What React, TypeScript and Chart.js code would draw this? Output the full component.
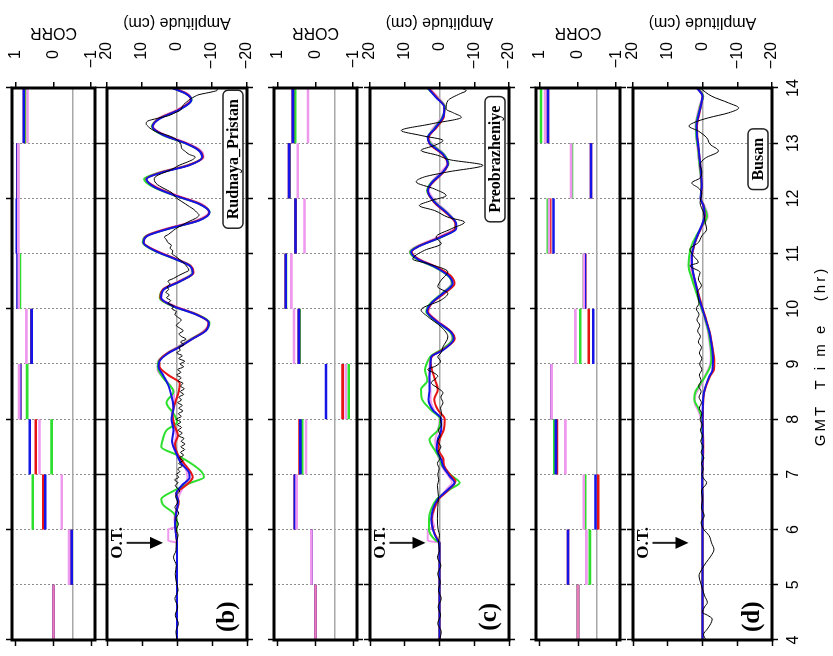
import React, { useEffect, useRef } from 'react';
import { Chart, registerables } from 'chart.js';

Chart.register(...registerables);

type P = [number, number];

// ---------- axes / ticks ----------
const TIME_TICKS = [4, 5, 6, 7, 8, 9, 10, 11, 12, 13, 14];
const TIME_TICKS_2H = [4, 6, 8, 10, 12, 14];
const AMP_TICKS = [20, 10, 0, -10, -20];
const CORR_TICKS = [1, 0, -1];
const CORR_REF = -0.5;
const HOUR_START = [4, 5, 6, 7, 8, 9, 10, 11, 12, 13];
const HOUR_END = [5, 6, 7, 8, 9, 10, 11, 12, 13, 14];
const OT_TIME = 5.76;
const STATIONS = ['Rudnaya_Pristan', 'Preobrazheniye', 'Busan'];
const PANEL_TAGS = ['(b)', '(c)', '(d)'];
const TIME_TITLE = 'GMT  T i m e   (hr)';

// ---------- hourly correlation (4-5 ... 13-14) ----------
const corrB_blue = [0, -0.48, 0.22, 0.63, 0.88, 0.58, 0.95, 0.97, 0.95, 0.79];
const corrB_red = [0, -0.48, 0.27, 0.47, 0.88, 0.58, 0.94, 0.96, 0.95, 0.78];
const corrB_green = [0, -0.48, 0.55, 0.05, 0.70, 0.58, 0.89, 0.96, 0.94, 0.75];
const corrB_violet = [0, -0.41, -0.22, 0.37, 0.91, 0.72, 0.92, 0.93, 0.93, 0.69];

const corrC_blue = [0, 0.11, 0.55, 0.40, -0.28, 0.44, 0.79, 0.53, 0.70, 0.60];
const corrC_red = [0, 0.11, 0.55, 0.42, -0.72, 0.44, 0.79, 0.53, 0.70, 0.60];
const corrC_green = [0, 0.11, 0.53, 0.35, -0.88, 0.42, 0.78, 0.53, 0.69, 0.54];
const corrC_violet = [0, 0.11, 0.50, 0.25, -0.80, 0.57, 0.64, 0.29, 0.47, 0.20];

const corrD_blue = [0, 0.26, -0.46, 0.58, 0.69, -0.40, -0.18, 0.64, -0.34, 0.79];
const corrD_red = [0, 0.26, -0.53, 0.55, 0.69, -0.28, -0.19, 0.73, -0.34, 0.79];
const corrD_green = [0, -0.31, -0.19, 0.62, 0.69, -0.06, -0.15, 0.79, 0.16, 0.97];
const corrD_violet = [0, -0.22, -0.15, 0.33, 0.69, 0.07, -0.15, 0.76, 0.18, 0.86];

// ---------- waveforms [time (hr), amplitude (cm)] ----------
const bBlack: P[] = [[4,0],[4.15,0.3],[4.3,-0.4],[4.45,0.5],[4.6,-0.2],[4.75,0.6],[4.9,-0.3],[5.05,0.2],[5.2,0.5],[5.35,0.2],[5.5,1.0],[5.62,0.3],[5.77,0.2],[5.9,-0.3],[6.0,0.2],[6.1,-0.4],[6.2,0.3],[6.3,-0.5],[6.4,0.6],[6.5,-0.2],[6.6,0.4],[6.7,-0.8],[6.8,0.5],[6.85,-0.3],[6.9,0.7],[6.95,-0.5],[7.0,0.2],[7.05,-0.8],[7.1,-0.2],[7.15,-1.5],[7.2,-0.5],[7.25,-1.7],[7.3,-0.7],[7.35,-1.9],[7.4,-1.0],[7.45,-2.2],[7.5,-1.1],[7.55,-2.3],[7.6,-1.2],[7.65,-2.0],[7.7,-0.5],[7.75,-1.5],[7.8,-0.3],[7.85,-1.3],[7.9,-0.1],[7.95,-1.1],[8.0,0.2],[8.05,-1.2],[8.1,-0.4],[8.15,-1.7],[8.2,-0.5],[8.25,-1.5],[8.3,-0.2],[8.35,-1.3],[8.4,-0.5],[8.45,-1.9],[8.5,-0.9],[8.55,-2.1],[8.6,-1.0],[8.65,-1.7],[8.7,-0.3],[8.75,-1.2],[8.8,0.1],[8.85,-1.1],[8.9,-0.2],[8.95,-1.9],[9.0,-0.9],[9.05,-2.2],[9.1,-0.5],[9.15,-1.5],[9.2,0.1],[9.25,-0.9],[9.3,-0.6],[9.35,-2.0],[9.4,-1.0],[9.45,-2.6],[9.5,-1.2],[9.55,-0.6],[9.6,-1.8],[9.65,-0.8],[9.7,0.2],[9.75,-0.6],[9.8,-1.2],[9.85,-0.2],[9.9,0.6],[9.95,0.2],[10.0,1.4],[10.05,1.0],[10.1,2.6],[10.15,1.8],[10.2,3.0],[10.25,2.2],[10.3,3.2],[10.35,2.4],[10.4,2.8],[10.45,2.0],[10.5,2.6],[10.55,1.0],[10.6,-0.4],[10.65,-2.0],[10.7,-3.4],[10.75,-3.0],[10.8,-2.4],[10.85,-1.6],[10.9,-0.6],[10.95,0.4],[11.0,1.4],[11.05,1.2],[11.1,2.0],[11.15,1.6],[11.2,2.6],[11.25,3.0],[11.3,3.6],[11.35,2.4],[11.4,1.4],[11.45,0.4],[11.5,-1.0],[11.55,-2.4],[11.6,-4.0],[11.65,-5.6],[11.7,-6.3],[11.75,-5.6],[11.8,-4.8],[11.85,-3.6],[11.9,-2.4],[11.95,-1.2],[12.0,0],[12.05,0.8],[12.1,1.4],[12.15,2.8],[12.2,4.3],[12.25,5.6],[12.3,6.3],[12.35,6.5],[12.4,6.0],[12.45,4.4],[12.5,2.4],[12.55,0.8],[12.6,-0.6],[12.65,-2.6],[12.7,-4.4],[12.75,-5.2],[12.8,-3.4],[12.85,-2.4],[12.9,-1.4],[12.95,-1.2],[13.0,-1.0],[13.05,-0.2],[13.1,1.0],[13.15,3.0],[13.2,5.6],[13.25,7.2],[13.3,8.2],[13.35,8.8],[13.4,8.4],[13.45,5.6],[13.5,2.4],[13.55,0.6],[13.6,-1.0],[13.65,-1.4],[13.7,-1.9],[13.75,-2.8],[13.8,-3.8],[13.85,-5.2],[13.88,-6.3],[13.93,-10.0],[13.96,-11.5],[14,-11.5]];
const bBlue: P[] = [[4,0],[5.76,0],[5.9,0.3],[6.1,0.6],[6.3,0.2],[6.5,-0.3],[6.65,0.2],[6.8,-1.4],[6.95,-3.6],[7.05,-3.3],[7.2,-1.2],[7.4,0.3],[7.6,1.4],[7.8,1.0],[8.0,1.6],[8.2,1.0],[8.4,1.5],[8.6,2.4],[8.8,4.0],[8.95,5.3],[9.05,5.0],[9.2,2.4],[9.3,-0.5],[9.45,-4.3],[9.6,-8.2],[9.75,-9.1],[9.9,-5.3],[10.05,1.2],[10.2,4.6],[10.35,3.8],[10.5,-1],[10.65,-4.5],[10.78,-3.6],[10.9,0.5],[11.05,6.3],[11.2,9.6],[11.32,8.5],[11.45,2.4],[11.6,-6.3],[11.75,-9.3],[11.9,-6.3],[12.05,0.5],[12.2,6.3],[12.35,8.7],[12.47,4.3],[12.6,-3.5],[12.75,-7.2],[12.88,-6.0],[13.0,-2.4],[13.15,4.0],[13.3,7.0],[13.45,4.8],[13.6,-0.5],[13.79,-4.1],[13.9,-2.4],[14,1.4]];
const bRed: P[] = [[4,0],[5.76,0],[5.9,0.2],[6.1,0.5],[6.3,0.3],[6.5,-0.5],[6.65,0.3],[6.8,-2.5],[6.95,-4.5],[7.05,-3.8],[7.2,-2.0],[7.35,-0.3],[7.55,0.6],[7.7,-0.3],[7.9,0.8],[8.1,1.3],[8.3,0.5],[8.5,-0.5],[8.65,-0.8],[8.8,2.5],[8.95,5.0],[9.05,5.1],[9.2,2.6],[9.3,-0.4],[9.45,-4.2],[9.6,-8.0],[9.75,-9.0],[9.9,-5.5],[10.05,1.0],[10.2,4.8],[10.35,4.0],[10.5,-0.8],[10.65,-4.7],[10.78,-3.8],[10.9,0.2],[11.05,6.0],[11.2,9.5],[11.32,8.7],[11.45,2.8],[11.6,-6.0],[11.75,-9.2],[11.9,-6.6],[12.05,0.2],[12.2,6.0],[12.35,8.8],[12.47,4.6],[12.6,-3.2],[12.75,-7.4],[12.88,-6.2],[13.0,-2.6],[13.15,3.8],[13.3,7.0],[13.45,5.0],[13.6,-0.2],[13.79,-4.0],[13.9,-2.6],[14,1.2]];
const bGreen: P[] = [[4,0],[5.76,0],[5.95,0.2],[6.15,0],[6.3,1],[6.45,4],[6.55,4.5],[6.7,1],[6.85,-4],[6.95,-7.7],[7.05,-7],[7.2,-4],[7.35,0],[7.5,4.5],[7.65,4],[7.8,3],[7.95,0],[8.1,1],[8.3,3],[8.5,1],[8.75,4],[8.95,5.5],[9.05,5.3],[9.2,2.6],[9.3,-0.2],[9.45,-4.0],[9.6,-8.0],[9.75,-9.3],[9.9,-5.6],[10.05,1.4],[10.2,4.9],[10.35,3.9],[10.5,-0.9],[10.65,-4.4],[10.78,-3.8],[10.9,0.5],[11.05,6.4],[11.2,9.8],[11.32,8.8],[11.45,2.4],[11.6,-6.2],[11.75,-9.3],[11.9,-6.4],[12.05,0.6],[12.2,6.6],[12.35,9.4],[12.47,4.8],[12.6,-3.2],[12.75,-7.2],[12.88,-6.1],[13.0,-2.3],[13.15,4.2],[13.3,7.2],[13.45,5.0],[13.6,-0.4],[13.79,-4.2],[13.9,-2.5],[14,1.3]];
const bViolet: P[] = [[4,0],[5.76,0],[5.8,2.5],[6.0,2.5],[6.05,0.5],[6.2,0.8],[6.4,0],[6.6,-0.5],[6.8,-2.0],[6.95,-3.0],[7.1,-2.5],[7.3,-0.5],[7.5,1.0],[7.7,0.3],[7.9,1.0],[8.1,1.5],[8.3,0.8],[8.5,1.0],[8.7,3.0],[8.9,5.6],[9.05,5.4],[9.2,2.8],[9.3,0.2],[9.45,-3.8],[9.6,-7.6],[9.75,-9.0],[9.9,-5.8],[10.05,0.6],[10.2,4.4],[10.35,4.0],[10.5,-0.4],[10.65,-4.2],[10.78,-4.0],[10.9,0],[11.05,5.8],[11.2,9.8],[11.32,9.0],[11.45,3.2],[11.6,-5.4],[11.75,-9.0],[11.9,-7.0],[12.05,-0.2],[12.2,5.6],[12.35,9.0],[12.47,5.2],[12.6,-2.8],[12.75,-7.6],[12.88,-6.6],[13.0,-3.0],[13.15,3.4],[13.3,6.8],[13.45,5.4],[13.6,0.2],[13.79,-4.0],[13.9,-3.0],[14,0.8]];

const cBlack: P[] = [[4,0],[4.15,-0.5],[4.3,0.5],[4.45,-0.3],[4.6,0.4],[4.75,-0.5],[4.9,0.3],[5.05,-0.2],[5.2,0.5],[5.35,-0.4],[5.5,0.6],[5.62,0],[5.77,0.3],[5.9,0],[6.0,0.4],[6.2,0.6],[6.4,0.5],[6.6,0.3],[6.8,0.6],[6.9,0.2],[7.0,0.5],[7.1,0.1],[7.2,0.6],[7.3,-0.2],[7.4,0.4],[7.5,-0.4],[7.6,0.5],[7.7,-0.2],[7.8,0.3],[7.9,-0.6],[8.0,-0.2],[8.1,-0.6],[8.2,-0.3],[8.3,-1.0],[8.4,-0.4],[8.48,-1.0],[8.56,0.4],[8.66,2.4],[8.74,1.0],[8.78,0.5],[8.84,1.6],[8.9,3.4],[8.96,1.2],[9.05,-0.3],[9.13,0.5],[9.2,-0.4],[9.31,-1],[9.49,-2.4],[9.67,-0.5],[9.86,3.4],[9.98,5.3],[10.16,-0.5],[10.28,-2.4],[10.4,0.5],[10.52,-0.5],[10.67,-2.4],[10.82,3.4],[10.9,7.7],[11.06,4.3],[11.18,-0.5],[11.3,1],[11.45,-3.4],[11.57,-7.2],[11.66,-2.4],[11.78,1.4],[11.87,5.8],[11.96,2.4],[12.05,-1.9],[12.17,1.4],[12.3,6.7],[12.39,4.3],[12.48,-2.4],[12.6,-12.5],[12.7,-3],[12.78,0.5],[12.87,5.3],[12.96,1.4],[13.05,-1],[13.14,5.3],[13.23,11],[13.35,2.4],[13.47,-6.3],[13.55,-4],[13.62,-1.9],[13.77,-2.4],[13.9,-6],[13.95,-7.7],[14,-6.3]];
const cBlue: P[] = [[4,0],[5.76,0],[5.8,0.5],[6.0,1.9],[6.19,2.4],[6.37,1.9],[6.55,0.5],[6.73,-2.5],[6.85,-4.3],[6.97,-2.9],[7.15,-1.0],[7.27,-0.5],[7.45,0.8],[7.63,0.5],[7.81,-0.5],[8.0,-0.5],[8.17,2.0],[8.36,3.2],[8.54,2.9],[8.78,2.9],[9.0,2.6],[9.13,2.4],[9.25,-1],[9.46,-4.1],[9.57,-3.4],[9.8,1.4],[9.95,3.6],[10.1,2.4],[10.28,-1],[10.46,-3.8],[10.58,-2.9],[10.76,1.4],[10.9,6.3],[11.03,8.2],[11.12,6.3],[11.3,-0.5],[11.45,-4.8],[11.54,-4.8],[11.72,-2.4],[11.93,1.4],[12.14,3.4],[12.27,2.4],[12.48,-1],[12.63,-2.4],[12.8,-1],[13.0,2.9],[13.1,3.4],[13.26,1.4],[13.47,-1],[13.65,-1.4],[13.83,1],[14,3.4]];
const cRed: P[] = [[4,0],[5.76,0],[5.8,0.4],[6.0,1.8],[6.19,2.2],[6.37,1.6],[6.55,0.2],[6.73,-2.8],[6.87,-4.6],[7.0,-3.0],[7.15,-1.4],[7.3,-1.0],[7.45,0.3],[7.63,0],[7.81,-1.2],[8.0,-1.5],[8.17,0.5],[8.36,1.5],[8.54,0.5],[8.7,1.2],[8.9,2.2],[9.05,2.6],[9.15,2.0],[9.27,-1.2],[9.46,-4.4],[9.57,-3.6],[9.8,1.2],[9.95,3.4],[10.1,2.2],[10.28,-1.4],[10.46,-4.3],[10.6,-3.2],[10.76,1.0],[10.9,6.0],[11.03,8.0],[11.12,6.4],[11.3,-0.2],[11.45,-4.5],[11.54,-4.6],[11.72,-2.2],[11.93,1.6],[12.14,3.4],[12.27,2.2],[12.48,-1.2],[12.63,-2.4],[12.8,-0.8],[13.0,3.0],[13.1,3.2],[13.26,1.2],[13.47,-1.2],[13.65,-1.4],[13.83,0.8],[14,3.2]];
const cGreen: P[] = [[4,0],[5.76,0],[5.8,1.0],[6.0,3.0],[6.19,3.0],[6.37,2.4],[6.55,0.8],[6.73,-3.0],[6.85,-5.8],[6.97,-3.6],[7.15,-0.8],[7.3,0],[7.45,1.5],[7.63,2.9],[7.8,0.5],[8.0,-0.2],[8.17,2.5],[8.36,5.0],[8.54,5.3],[8.7,3.5],[8.9,4.2],[9.02,3.6],[9.15,2.4],[9.27,-0.8],[9.46,-3.8],[9.57,-3.2],[9.8,1.6],[9.95,3.8],[10.1,2.6],[10.28,-0.8],[10.46,-3.6],[10.58,-2.8],[10.76,1.6],[10.9,6.6],[11.03,8.5],[11.12,6.6],[11.3,-0.6],[11.45,-4.6],[11.54,-4.7],[11.72,-2.5],[11.93,1.2],[12.14,3.6],[12.27,2.6],[12.48,-1.0],[12.63,-2.6],[12.8,-1.2],[13.0,2.6],[13.1,3.4],[13.26,1.6],[13.47,-0.8],[13.65,-1.6],[13.83,0.8],[14,3.5]];
const cViolet: P[] = [[4,0],[5.76,0],[5.8,3.4],[6.0,3.4],[6.05,1.5],[6.19,2.0],[6.37,1.5],[6.55,0.3],[6.73,-2.0],[6.85,-3.6],[6.97,-2.6],[7.15,-0.6],[7.3,0.2],[7.45,1.0],[7.63,1.2],[7.81,0.4],[8.0,0],[8.17,1.6],[8.36,2.6],[8.54,2.6],[8.78,3.0],[9.0,2.8],[9.13,2.2],[9.25,-0.6],[9.46,-3.6],[9.57,-3.4],[9.8,1.0],[9.95,3.2],[10.1,2.4],[10.28,-0.6],[10.46,-3.4],[10.58,-3.0],[10.76,1.0],[10.9,6.0],[11.03,8.6],[11.12,7.0],[11.3,0.4],[11.45,-4.2],[11.54,-4.6],[11.72,-2.8],[11.93,0.8],[12.14,3.0],[12.27,2.6],[12.48,-0.4],[12.63,-2.2],[12.8,-1.4],[13.0,2.2],[13.1,3.2],[13.26,2.0],[13.47,-0.6],[13.65,-1.6],[13.83,0.4],[14,3.0]];

const dBlack: P[] = [[4,-1.0],[4.1,-0.3],[4.2,-1.4],[4.3,-2.4],[4.38,-2.8],[4.45,-1.4],[4.5,0],[4.6,-0.6],[4.68,-1.4],[4.8,-0.6],[4.92,0],[5.05,0.6],[5.16,1.0],[5.28,0.2],[5.4,-1.0],[5.52,-2.4],[5.64,-3.3],[5.76,-2.6],[5.89,-1.9],[6.0,-0.4],[6.13,0.4],[6.25,-0.5],[6.4,0.3],[6.55,0],[6.7,0.3],[6.85,-1.2],[6.92,-0.4],[7.0,0.2],[7.1,-0.2],[7.2,0.3],[7.3,-0.4],[7.4,0.4],[7.5,-0.2],[7.6,0.5],[7.7,0],[7.8,0.6],[7.9,0.1],[8.0,0.7],[8.1,0.2],[8.2,0.9],[8.3,0.3],[8.4,1.0],[8.5,0.4],[8.6,1.1],[8.7,0.4],[8.8,0.9],[8.9,0.2],[9.0,0.8],[9.1,0.2],[9.2,0.9],[9.3,0.3],[9.4,1.2],[9.5,0.6],[9.6,1.4],[9.7,0.8],[9.8,1.6],[9.9,1.0],[10.0,1.8],[10.1,1.0],[10.18,1.2],[10.3,1.5],[10.42,0.3],[10.54,1.2],[10.66,0.7],[10.78,3.6],[10.84,1.2],[10.96,2.6],[11.08,3.6],[11.2,1.2],[11.32,0.2],[11.44,-1.2],[11.56,-0.8],[11.74,-0.3],[11.92,0.7],[12.1,0.2],[12.19,1.2],[12.28,3.1],[12.37,0.7],[12.49,0.2],[12.61,0.7],[12.73,-0.8],[12.86,-4.6],[12.98,-2.2],[13.1,-1.2],[13.22,1.2],[13.31,3.9],[13.37,2.6],[13.46,-1.7],[13.55,-7.5],[13.64,-10.4],[13.73,-7.5],[13.85,-2.7],[14,0.7]];
const dBlue: P[] = [[4,0],[5.76,0],[6.5,0],[7.0,0.1],[7.5,-0.1],[8.0,0],[8.4,-0.2],[8.6,-0.9],[8.78,-2.0],[8.9,-2.9],[9.05,-3.0],[9.3,-2.7],[9.57,-2.0],[9.81,-0.9],[10.05,0.3],[10.3,1.4],[10.54,2.3],[10.78,3.0],[10.96,3.1],[11.14,2.5],[11.32,1.5],[11.5,0.3],[11.68,-0.6],[11.86,-0.3],[12.0,0.6],[12.22,0.2],[12.46,0.4],[12.7,0.8],[12.95,1.2],[13.13,1.6],[13.31,1.7],[13.49,1.2],[13.67,0.5],[13.85,0],[14,1.6]];
const dRed: P[] = [[4,0],[5.76,0],[6.5,0],[7.0,0.1],[7.5,-0.2],[8.0,-0.1],[8.4,-0.3],[8.6,-1.0],[8.78,-2.2],[8.9,-3.3],[9.05,-3.4],[9.3,-2.9],[9.57,-2.1],[9.81,-1.0],[10.05,0.2],[10.3,1.3],[10.54,2.3],[10.78,3.0],[10.96,3.0],[11.14,2.4],[11.32,1.4],[11.5,0.2],[11.68,-0.7],[11.86,-0.3],[12.0,0.5],[12.22,0.2],[12.46,0.4],[12.7,0.8],[12.95,1.2],[13.13,1.5],[13.31,1.6],[13.49,1.1],[13.67,0.5],[13.85,0],[14,1.5]];
const dGreen: P[] = [[4,0],[5.76,0],[6.5,0],[7.0,0.1],[7.5,0],[8.0,0.2],[8.2,1.2],[8.36,2.4],[8.5,2.0],[8.65,0.5],[8.8,-1.0],[8.95,-2.2],[9.1,-2.6],[9.3,-2.4],[9.57,-1.8],[9.81,-0.8],[10.05,0.5],[10.3,1.8],[10.54,3.0],[10.78,4.0],[10.96,3.8],[11.14,3.2],[11.32,1.8],[11.5,0.1],[11.68,-1.3],[11.86,-0.4],[12.0,0.5],[12.22,0.3],[12.46,0.6],[12.7,1.0],[12.95,1.4],[13.13,1.8],[13.31,1.9],[13.49,1.4],[13.67,0.7],[13.85,-0.2],[14,1.2]];
const dViolet: P[] = [[4,0],[5.76,0],[6.5,0],[7.0,0.1],[7.5,0.1],[8.0,0.4],[8.15,1.2],[8.3,2.2],[8.45,2.0],[8.6,0.6],[8.8,-0.8],[8.95,-2.0],[9.1,-2.4],[9.3,-2.2],[9.57,-1.6],[9.81,-0.6],[10.05,0.6],[10.3,1.7],[10.54,2.8],[10.78,3.6],[10.96,3.6],[11.14,3.0],[11.32,1.6],[11.5,-0.1],[11.68,-1.5],[11.86,-0.6],[12.0,0.4],[12.22,0.4],[12.46,0.7],[12.7,1.1],[12.95,1.5],[13.13,1.9],[13.31,2.0],[13.49,1.6],[13.67,0.9],[13.85,0],[14,1.0]];

// ---------- styling ----------
const COLORS = { blue: '#1414e6', red: '#e61414', green: '#2ee02e', violet: '#ee98ee', black: '#000000', preEvent: '#e87ab4' };
const SANS = '"Liberation Sans", Arial, Helvetica, sans-serif';
const SERIF = '"Liberation Serif", "Times New Roman", serif';
const W = 656;
const H = 833;
const PLOT_RIGHT = 568;
const PLOT_LEFT_GUTTER = 16;

const pts = (a: P[]) => a.map(([x, y]) => ({ x, y }));
const segs = (v: number[]) =>
  v.flatMap((val, i) => [
    { x: HOUR_START[i], y: val },
    { x: HOUR_END[i], y: val },
    { x: HOUR_END[i], y: null },
  ]);

function corrDatasets(blue: number[], red: number[], green: number[], violet: number[]) {
  return [
    {
      data: segs(violet),
      borderColor: COLORS.violet,
      segment: { borderColor: (c: any) => (c.p0.parsed.x < HOUR_END[0] ? COLORS.preEvent : undefined) },
    },
    { data: segs(blue), borderColor: COLORS.blue },
    { data: segs(red), borderColor: COLORS.red },
    { data: segs(green), borderColor: COLORS.green },
  ].map((d) => ({ ...d, borderWidth: 2.6, pointRadius: 0, spanGaps: false, tension: 0, borderCapStyle: 'butt' }));
}

function ampDatasets(black: P[], blue: P[], red: P[], green: P[], violet: P[]) {
  return [
    { data: pts(black), borderColor: COLORS.black, borderWidth: 1 },
    { data: pts(blue), borderColor: COLORS.blue, borderWidth: 2 },
    { data: pts(red), borderColor: COLORS.red, borderWidth: 2 },
    { data: pts(green), borderColor: COLORS.green, borderWidth: 2 },
    { data: pts(violet), borderColor: COLORS.violet, borderWidth: 2 },
  ].map((d) => ({ ...d, pointRadius: 0, cubicInterpolationMode: 'monotone' }));
}

const decoPlugin = {
  id: 'deco',
  afterDraw(chart: any, _args: any, opts: any) {
    const { ctx, chartArea: a, scales } = chart;
    const sx = scales.x;
    const sy = scales.y;
    ctx.save();
    ctx.fillStyle = '#000';
    ctx.strokeStyle = '#000';
    // frame
    ctx.lineWidth = 3;
    ctx.strokeRect(a.left, a.top, a.right - a.left, a.bottom - a.top);
    // axis title on the right side
    ctx.save();
    ctx.font = `16px ${SANS}`;
    ctx.textAlign = 'center';
    ctx.textBaseline = 'middle';
    ctx.translate(a.right + opts.titleOffset, (a.top + a.bottom) / 2);
    ctx.rotate(-Math.PI / 2);
    ctx.fillText(opts.title, 0, 0);
    ctx.restore();

    if (opts.station) {
      // station label box
      ctx.font = `bold 16px ${SERIF}`;
      const cx = sx.getPixelForValue(12.71);
      const cy = sy.getPixelForValue(-16);
      const tw = ctx.measureText(opts.station).width;
      const bw = tw + 18;
      const bh = 20;
      ctx.fillStyle = '#fff';
      ctx.lineWidth = 1.5;
      ctx.strokeStyle = '#222';
      ctx.beginPath();
      ctx.roundRect(cx - bw / 2, cy - bh / 2, bw, bh, 5);
      ctx.fill();
      ctx.stroke();
      ctx.fillStyle = '#000';
      ctx.textAlign = 'center';
      ctx.textBaseline = 'middle';
      ctx.fillText(opts.station, cx, cy + 1);

      // panel tag
      ctx.font = `bold 25px ${SERIF}`;
      ctx.textAlign = 'center';
      ctx.textBaseline = 'middle';
      ctx.fillText(opts.tag, sx.getPixelForValue(4.42), sy.getPixelForValue(-14.5));

      // O.T. arrow
      const x = sx.getPixelForValue(OT_TIME);
      const y1 = sy.getPixelForValue(14.4);
      const y2 = sy.getPixelForValue(4);
      ctx.lineWidth = 2;
      ctx.beginPath();
      ctx.moveTo(x, y1);
      ctx.lineTo(x, y2 - 11);
      ctx.stroke();
      ctx.beginPath();
      ctx.moveTo(x - 6, y2 - 13);
      ctx.lineTo(x + 6, y2 - 13);
      ctx.lineTo(x, y2);
      ctx.closePath();
      ctx.fill();
      ctx.font = `bold 17px ${SERIF}`;
      ctx.fillText('O.T.', x, sy.getPixelForValue(16.9));
    }

    if (opts.timeTitle) {
      ctx.font = `15px ${SANS}`;
      (ctx as any).letterSpacing = '3px';
      ctx.textAlign = 'center';
      ctx.textBaseline = 'middle';
      ctx.fillText(TIME_TITLE, (a.left + a.right) / 2 + 8, a.bottom + 49);
      (ctx as any).letterSpacing = '0px';
    }
    ctx.restore();
  },
};

type Spec = {
  kind: 'corr' | 'amp';
  top: number;
  bottom: number;
  padTop: number;
  padBottom: number;
  datasets: any[];
  title: string;
  titleOffset: number;
  labelEnd: number;
  station?: string;
  tag?: string;
  showTime?: boolean;
};

const SPECS: Spec[] = [
  { kind: 'corr', top: 12, bottom: 95, padTop: 10, padBottom: 10, labelEnd: 606, datasets: corrDatasets(corrB_blue, corrB_red, corrB_green, corrB_violet), title: 'CORR', titleOffset: 56 },
  { kind: 'amp', top: 107, bottom: 247, padTop: 10, padBottom: 10, labelEnd: 614, datasets: ampDatasets(bBlack, bBlue, bRed, bGreen, bViolet), title: 'Amplitude (cm)', titleOffset: 66, station: STATIONS[0], tag: PANEL_TAGS[0] },
  { kind: 'corr', top: 274, bottom: 357, padTop: 10, padBottom: 10, labelEnd: 606, datasets: corrDatasets(corrC_blue, corrC_red, corrC_green, corrC_violet), title: 'CORR', titleOffset: 56 },
  { kind: 'amp', top: 370, bottom: 509, padTop: 10, padBottom: 10, labelEnd: 614, datasets: ampDatasets(cBlack, cBlue, cRed, cGreen, cViolet), title: 'Amplitude (cm)', titleOffset: 66, station: STATIONS[1], tag: PANEL_TAGS[1] },
  { kind: 'corr', top: 536, bottom: 620, padTop: 10, padBottom: 10, labelEnd: 606, datasets: corrDatasets(corrD_blue, corrD_red, corrD_green, corrD_violet), title: 'CORR', titleOffset: 56 },
  { kind: 'amp', top: 633, bottom: 772, padTop: 10, padBottom: H - 772, labelEnd: 614, datasets: ampDatasets(dBlack, dBlue, dRed, dGreen, dViolet), title: 'Amplitude (cm)', titleOffset: 66, station: STATIONS[2], tag: PANEL_TAGS[2], showTime: true },
];

const fmt = (v: number) => (v < 0 ? '\u2212' + String(-v) : String(v));

function buildChart(canvas: HTMLCanvasElement, spec: Spec) {
  const isCorr = spec.kind === 'corr';
  const yTicks = isCorr ? [1, 0, CORR_REF, -1] : AMP_TICKS;
  const yMin = isCorr ? -1.1 : -20;
  const yMax = isCorr ? 1.1 : 20;
  const tickFont = { family: SANS, size: 16 };
  const setTicks = (vals: number[]) => (s: any) => {
    s.ticks = vals.map((value) => ({ value }));
  };
  const noPad = (s: any) => {
    s.paddingTop = 0;
    s.paddingBottom = 0;
    s.paddingLeft = 0;
    s.paddingRight = 0;
  };
  const fixH = (h: number) => (s: any) => {
    s.height = h;
    noPad(s);
  };
  const fixW = (w: number) => (s: any) => {
    s.width = w;
    noPad(s);
  };
  return new Chart(canvas, {
    type: 'line',
    data: { datasets: spec.datasets },
    options: {
      animation: false,
      responsive: false,
      maintainAspectRatio: false,
      events: [],
      layout: { padding: { left: 0, top: 0, bottom: 0, right: W - spec.labelEnd } },
      plugins: {
        legend: { display: false },
        tooltip: { enabled: false },
        deco: { title: spec.title, titleOffset: spec.titleOffset, station: spec.station, tag: spec.tag, timeTitle: !!spec.showTime },
      },
      scales: {
        x: {
          type: 'linear',
          position: 'bottom',
          min: 4,
          max: 14,
          afterBuildTicks: setTicks(TIME_TICKS),
          afterFit: fixH(spec.padBottom),
          ticks: { display: !!spec.showTime, autoSkip: false, padding: 6, font: tickFont, color: '#000', maxRotation: 0, callback: (v: any) => String(v) },
          grid: { color: '#8c8c8c', lineWidth: 1, tickLength: 6, tickColor: '#000', tickWidth: 1.5, tickBorderDash: [1, 0] },
          border: { display: false, dash: [2, 2] },
        },
        xTop: {
          type: 'linear',
          position: 'top',
          min: 4,
          max: 14,
          afterBuildTicks: setTicks(isCorr ? TIME_TICKS_2H : TIME_TICKS),
          afterFit: fixH(spec.padTop),
          ticks: { display: false },
          grid: { drawOnChartArea: false, tickLength: 6, tickColor: '#000', tickWidth: 1.5 },
          border: { display: false },
        },
        y: {
          type: 'linear',
          position: 'right',
          min: yMin,
          max: yMax,
          afterBuildTicks: setTicks(yTicks),
          afterFit: fixW(spec.labelEnd - PLOT_RIGHT),
          ticks: {
            padding: 14,
            autoSkip: false,
            crossAlign: 'far',
            font: tickFont,
            color: '#000',
            callback: (v: any) => (v === CORR_REF && isCorr ? '' : fmt(v)),
          },
          grid: {
            color: (c: any) => {
              const v = c.tick && c.tick.value;
              if (isCorr) return v === CORR_REF ? '#a8a8a8' : 'rgba(0,0,0,0)';
              return v === 0 ? '#a8a8a8' : 'rgba(0,0,0,0)';
            },
            lineWidth: 1.5,
            tickLength: 6,
            tickWidth: 1.5,
            tickColor: (c: any) => (isCorr && c.tick && c.tick.value === CORR_REF ? 'rgba(0,0,0,0)' : '#000'),
          },
          border: { display: false },
        },
        yLeft: {
          type: 'linear',
          position: 'left',
          min: yMin,
          max: yMax,
          afterBuildTicks: setTicks(isCorr ? CORR_TICKS : AMP_TICKS),
          afterFit: fixW(PLOT_LEFT_GUTTER),
          ticks: { display: false },
          grid: { drawOnChartArea: false, tickLength: 6, tickWidth: 1.5, tickColor: '#000' },
          border: { display: false },
        },
      },
    } as any,
    plugins: [decoPlugin as any],
  });
}

function Panel({ spec }: { spec: Spec }) {
  const ref = useRef<HTMLCanvasElement>(null);
  useEffect(() => {
    if (!ref.current) return;
    const chart = buildChart(ref.current, spec);
    return () => chart.destroy();
  }, [spec]);
  const h = spec.bottom - spec.top + spec.padTop + spec.padBottom;
  return (
    <canvas
      ref={ref}
      width={W}
      height={h}
      style={{ position: 'absolute', left: 0, top: spec.top - spec.padTop, width: W, height: h, display: 'block' }}
    />
  );
}

export default function App() {
  return (
    <div style={{ position: 'fixed', left: 0, top: 0, width: H, height: W, overflow: 'hidden', background: '#fff' }}>
      <div
        style={{
          position: 'absolute',
          left: 0,
          top: 0,
          width: W,
          height: H,
          transformOrigin: '0 0',
          transform: `translateY(${W}px) rotate(-90deg)`,
        }}
      >
        {SPECS.map((s, i) => (
          <Panel key={i} spec={s} />
        ))}
      </div>
    </div>
  );
}
